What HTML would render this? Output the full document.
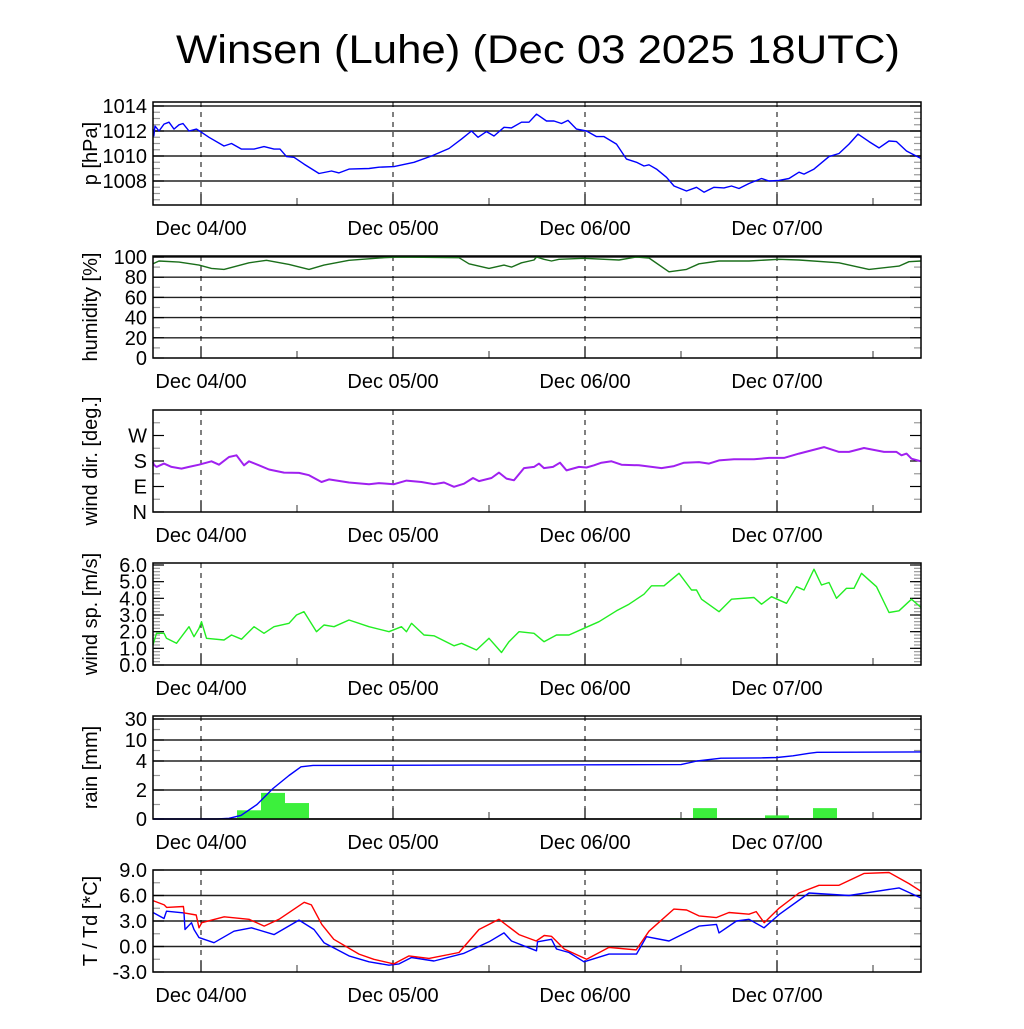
<!DOCTYPE html>
<html><head><meta charset="utf-8"><style>
html,body{margin:0;padding:0;background:#fff;}
svg text{font-family:"Liberation Sans",sans-serif;}
</style></head><body>
<svg id="chart" width="1024" height="1024" viewBox="0 0 1024 1024" xmlns="http://www.w3.org/2000/svg">
<rect width="1024" height="1024" fill="#fff"/>
<text x="538" y="63" font-size="40" text-anchor="middle" textLength="724" lengthAdjust="spacingAndGlyphs">Winsen (Luhe) (Dec 03 2025 18UTC)</text>
</svg>
<script>
// ---- data (hours since Dec 03 18UTC) ----
const dayLabels = ["Dec 04/00","Dec 05/00","Dec 06/00","Dec 07/00"];
const dayHours = [6,30,54,78];

const pHours = [0,0.1,0.25,0.75,1.375,2,2.625,3.25,3.75,4.5,5.44,6.06,7,8.875,9.81,11.06,12.625,13.875,15.125,15.875,16.69,17.625,18.875,20.75,22.31,23.25,24.5,27,28.25,30.125,32.625,34.81,37,38.56,39.81,40.625,41.69,42.625,43.875,44.81,46.06,47,47.94,49.19,50.125,51.06,51.875,52.94,54.19,55.44,56.375,57.94,59.19,60.44,61.375,62,62.94,64.19,65.125,66.69,67.94,68.875,70.125,71.375,72.31,73.25,74.5,76.06,77,78.25,79.5,80.75,81.375,82.625,84.5,85.75,87,88.125,89.5,90.75,92,92.94,94.19,96];
const pValues = [1012.15,1011.6,1012.4,1012.0,1012.55,1012.7,1012.15,1012.5,1012.6,1012.0,1012.15,1011.9,1011.5,1010.8,1011.0,1010.55,1010.55,1010.75,1010.55,1010.55,1009.95,1009.9,1009.35,1008.6,1008.8,1008.65,1008.95,1009.0,1009.1,1009.15,1009.5,1010.0,1010.6,1011.35,1012.0,1011.5,1011.95,1011.6,1012.3,1012.25,1012.7,1012.7,1013.35,1012.8,1012.8,1012.6,1012.85,1012.15,1012.0,1011.55,1011.55,1010.95,1009.75,1009.5,1009.2,1009.3,1008.95,1008.3,1007.6,1007.2,1007.5,1007.1,1007.5,1007.45,1007.6,1007.4,1007.8,1008.2,1008.0,1008.05,1008.2,1008.7,1008.55,1008.95,1009.95,1010.2,1010.95,1011.75,1011.15,1010.65,1011.2,1011.15,1010.4,1009.8];

const hHours = [0,0.75,3.25,5.75,7.31,8.875,12,14.19,17,19.5,21.375,24.5,28.875,30.75,38.25,39.5,42,43.875,44.81,46.06,47.625,47.94,48.875,49.81,50.75,53.875,58.25,60.44,62,64.5,66.69,68.25,70.75,74.5,78.25,80.75,85.75,89.5,93.25,94.5,96];
const hValues = [93.3,96,95,92,88.7,87.7,94.3,96.7,92.7,87.7,92,96.7,99.3,100,99.3,93.3,88.7,92,90,94.3,97,100,97.7,96,97.7,98.7,97,100,99,85.3,87.7,93.3,96,96,97.7,97,94.3,87.7,91,95.3,96];

const dHours = [0,0.1,0.44,1.375,2.31,3.56,4.5,5.75,7.31,8.25,9.5,10.44,11.375,12,13.25,14.5,16.375,18.25,19.5,21.06,22,24.5,27,28.25,30.125,31.69,33.56,35.125,36.375,37.625,38.875,40,40.75,42.31,43.25,44.19,45.125,46.375,47.625,48.25,48.875,50,50.875,51.69,53.25,54.19,55.125,56.06,57.31,58.56,60.75,63.56,65.125,66.375,68.25,69.5,70.75,72.625,75.125,77,78.875,80.75,83.875,85.75,87,88.875,91.375,92.94,93.56,94.19,94.81,96];
const dValues = [176,167,159,171,159,153,159,167,179,167,194,200,165,179,165,150,139,138,130,106,115,104,98,102,98,111,106,98,104,89,100,120,109,120,139,118,112,155,159,171,155,159,174,147,159,157,165,174,179,167,165,155,162,174,176,171,182,186,186,191,191,206,229,212,212,226,212,212,200,206,188,179];

const sHours = [0,0.44,1.375,1.69,2.94,3.875,4.5,5.125,5.75,6.06,6.69,8.875,9.81,11.06,12.625,13.875,15.125,17,17.94,18.875,20.44,21.375,22.625,24.5,27,29.5,31.06,31.69,32.31,33.875,35.125,37.625,38.56,40.44,42,43.56,44.5,45.75,47.625,48.875,50.44,52,53.875,55.75,57.94,59.5,61.375,62.31,63.875,65.75,67.31,67.94,68.56,70.75,72.31,75.125,76.06,77.31,79.19,80.44,81.375,82.625,83.56,84.5,85.44,86.69,87.625,88.56,90.44,92,93.25,94.81,96];
const sValues = [1.2,1.9,1.9,1.6,1.3,1.9,2.3,1.7,2.2,2.6,1.6,1.5,1.8,1.55,2.3,1.9,2.3,2.5,3.0,3.2,2.0,2.4,2.3,2.7,2.3,2.0,2.3,2.0,2.5,1.8,1.75,1.15,1.3,0.9,1.6,0.75,1.4,2.0,1.9,1.4,1.8,1.8,2.2,2.6,3.25,3.65,4.25,4.75,4.75,5.5,4.5,4.5,3.95,3.2,3.95,4.05,3.65,4.1,3.7,4.7,4.5,5.75,4.8,4.95,4.0,4.6,4.6,5.5,4.7,3.15,3.25,3.95,3.45];

const rainBinStart = [10.5,13.5,16.5,19.5,42,45,64.5,67.5,70.5,73.5,76.5,79.5,82.5];
const rainAmount = [0.6,1.8,1.1,0.03,0.03,0.03,0.05,0.75,0.05,0.05,0.25,0.05,0.75];
const rainBinWidth = 3;
const accHours = [0,8,9.5,11,13,15,17,18.5,20,40,66,68,71,76,78,80,82,83,96];
const accValues = [0,0,0.05,0.25,1.0,2.1,3.0,3.6,3.7,3.72,3.75,4.0,4.8,4.9,5.0,5.5,6.2,6.5,6.6];

const tHours = [0,1.4,1.7,3.8,3.9,5.4,5.75,6.1,8.9,12,13.9,15.75,18.9,19.8,21.1,22.6,25.75,27.6,30.1,32,34.5,38.25,40.75,43.25,45.75,47.9,48.9,49.8,51.4,54.2,57,60.4,62,65.1,66.7,68.25,70.4,72,74.5,75.4,76.4,78.25,80.75,83.25,85.75,88.9,92,94.5,96];
const tValues = [5.4,4.9,4.6,4.7,3.95,3.7,2.2,2.8,3.5,3.2,2.4,3.2,5.2,4.9,2.6,0.85,-0.9,-1.5,-2.05,-1.1,-1.4,-0.7,2.0,3.2,1.4,0.65,1.3,1.2,-0.3,-1.5,-0.1,-0.4,1.8,4.4,4.3,3.6,3.4,4.0,3.8,4.1,2.8,4.5,6.3,7.2,7.2,8.6,8.7,7.4,6.5];
const tdHours = [0,1.375,1.69,3.875,4,4.81,5.125,5.75,7.625,10.125,12.31,15.125,18.25,20.125,21.375,24.5,27,29.5,30.75,32.31,35.125,38.875,42,43.875,44.81,47.94,48.06,49.81,50.44,52,53.875,57,60.44,61.69,64.5,68.25,70.44,70.75,72.94,74.5,76.375,78.25,82,87,93.25,96];
const tdValues = [4.0,3.3,4.15,3.95,2.0,2.8,2.0,1.05,0.45,1.8,2.2,1.4,3.1,2.0,0.45,-1.1,-1.8,-2.2,-2.05,-1.3,-1.7,-0.8,0.55,1.6,0.65,-0.5,0.55,0.85,-0.3,-0.7,-1.8,-0.9,-0.9,1.15,0.65,2.4,2.6,1.6,3.0,3.2,2.2,3.75,6.3,6.0,6.9,5.7];

const pTicks = [1008,1010,1012,1014];
const hTicks = [0,20,40,60,80,100];
const dTicks = [0,90,180,270];
const dTickLabels = ["N","E","S","W"];
const sTicks = [0,1,2,3,4,5,6];
const rTicks = [0,2,4,10,30];
const tTicks = [-3,0,3,6,9];

// ---- layout ----
const NS = "http://www.w3.org/2000/svg";
const svg = document.getElementById('chart');
const X0 = 153, X1 = 921, HMAX = 96;
const xs = h => X0 + (h / HMAX) * (X1 - X0);
function el(tag, attrs, parent) {
  const e = document.createElementNS(NS, tag);
  for (const k in attrs) e.setAttribute(k, attrs[k]);
  (parent || svg).appendChild(e);
  return e;
}
function linScale(v0, v1, y0, y1) { return v => y0 + (v - v0) / (v1 - v0) * (y1 - y0); }
function pieceScale(vals, ys) {
  return v => {
    if (v <= vals[0]) return ys[0];
    for (let i = 1; i < vals.length; i++) if (v <= vals[i]) return ys[i-1] + (v - vals[i-1]) / (vals[i] - vals[i-1]) * (ys[i] - ys[i-1]);
    return ys[ys.length-1];
  };
}

function panel(cfg) {
  const g = el('g', {});
  
  
  const {top, bot, ys} = cfg;
  (cfg.grid || []).forEach(v => {
    const gl = el('line', {x1: X0, x2: X1, y1: ys(v), y2: ys(v), stroke: '#222', 'stroke-width': 1.4}, g);
    
    
  });
  (cfg.minor || []).forEach(v => {
    const y = ys(v);
    el('line', {x1: X0, x2: X0 + 7, y1: y, y2: y, stroke: '#999', 'stroke-width': 1.2}, g);
    el('line', {x1: X1 - 7, x2: X1, y1: y, y2: y, stroke: '#999', 'stroke-width': 1.2}, g);
  });
  cfg.ticks.forEach((v, i) => {
    const y = ys(v);
    el('line', {x1: X0, x2: X0 + 11, y1: y, y2: y, stroke: '#000', 'stroke-width': 1.2}, g);
    el('line', {x1: X1 - 11, x2: X1, y1: y, y2: y, stroke: '#000', 'stroke-width': 1.2}, g);
    const t = el('text', {x: 147, y: y + 7, 'font-size': 20, 'text-anchor': 'end'}, g);
    
    
    t.textContent = cfg.labels[i];
  });
  dayHours.forEach((h, i) => {
    const x = xs(h);
    const dl = el('line', {x1: x, x2: x, y1: top, y2: bot, stroke: '#000', 'stroke-width': 1, 'stroke-dasharray': '5,5'}, g);
    
    
    el('line', {x1: x, x2: x, y1: bot - 11, y2: bot, stroke: '#000', 'stroke-width': 1.2}, g);
    el('line', {x1: xs(h + 12), x2: xs(h + 12), y1: bot - 7, y2: bot, stroke: '#555', 'stroke-width': 1.2}, g);
    const t = el('text', {x: x, y: bot + 30, 'font-size': 20, 'text-anchor': 'middle'}, g);
    
    
    t.textContent = dayLabels[i];
  });
  const cy = (top + bot) / 2;
  const at = el('text', {x: 0, y: 0, 'font-size': 20, 'text-anchor': 'middle', transform: `translate(${cfg.titleX || 97},${cy}) rotate(-90)`}, g);
  
  
  at.textContent = cfg.title;
  return g;
}
function frame(g, top, bot) {
  const r = el('rect', {x: X0, y: top, width: X1 - X0, height: bot - top, fill: 'none', stroke: '#000', 'stroke-width': 1.5}, g);
  
  
}
function series(g, hours, vals, ys, color, name, w) {
  const n = Math.min(hours.length, vals.length);
  let d = '';
  for (let i = 0; i < n; i++) d += (i ? 'L' : 'M') + xs(hours[i]).toFixed(1) + ',' + ys(vals[i]).toFixed(1);
  const p = el('path', {d: d, fill: 'none', stroke: color, 'stroke-width': w || 1.4, 'stroke-linejoin': 'round'}, g);
  
  
}
function range(a, b, s) { const r = []; for (let v = a; v <= b + 1e-9; v += s) r.push(+v.toFixed(3)); return r; }

// Pressure
{
  const top = 102, bot = 205, ys = linScale(1008, 1014, 181, 106);
  const g = panel({name: 'pressure', top, bot, ys, grid: pTicks, ticks: pTicks, labels: pTicks.map(String), minor: range(1006.5, 1014, 0.5), title: 'p [hPa]'});
  series(g, pHours, pValues, ys, '#0000ff', 'pressure-line');
  frame(g, top, bot);
}
// Humidity
{
  const top = 256, bot = 358, ys = linScale(0, 100, 358, 257);
  const g = panel({name: 'humidity', top, bot, ys, grid: hTicks.slice(1), ticks: hTicks, labels: hTicks.map(String), minor: range(10, 90, 20), title: 'humidity [%]'});
  series(g, hHours, hValues, ys, '#1a6e1a', 'humidity-line');
  frame(g, top, bot);
}
// Wind direction
{
  const top = 410, bot = 512, ys = linScale(0, 360, 512, 410);
  const g = panel({name: 'wind-direction', top, bot, ys, grid: [], ticks: dTicks, labels: dTickLabels, minor: [45, 135, 225, 315], title: 'wind dir. [deg.]'});
  series(g, dHours, dValues, ys, '#a020f0', 'wind-direction-line', 2);
  frame(g, top, bot);
}
// Wind speed
{
  const top = 563, bot = 665, ys = linScale(0, 6, 665, 565);
  const g = panel({name: 'wind-speed', top, bot, ys, grid: [], ticks: sTicks, labels: sTicks.map(v => v.toFixed(1)), minor: range(0.2, 6, 0.2), title: 'wind sp. [m/s]'});
  series(g, sHours, sValues, ys, '#22ee22', 'wind-speed-line');
  frame(g, top, bot);
}
// Rain
{
  const top = 716, bot = 819, ys = pieceScale(rTicks, [819, 790, 761, 740, 719]);
  const g = panel({name: 'rain', top, bot, ys, grid: rTicks, ticks: rTicks, labels: rTicks.map(String), minor: [1, 3, 7, 20], title: 'rain [mm]'});
  rainBinStart.forEach((h, i) => {
    const y = ys(rainAmount[i]);
    const b = el('rect', {x: xs(h), y: y, width: xs(h + rainBinWidth) - xs(h), height: Math.max(819 - y, 0.8), fill: '#3cf03c'}, g);
    
    
  });
  series(g, accHours, accValues, ys, '#0000ff', 'rain-accumulation-line');
  frame(g, top, bot);
}
// Temperature
{
  const top = 870, bot = 972, ys = linScale(-3, 9, 972, 870);
  const g = panel({name: 'temperature', top, bot, ys, grid: [0, 3, 6], ticks: tTicks, labels: tTicks.map(v => v.toFixed(1)), minor: range(-1.5, 7.5, 3), title: 'T / Td [*C]'});
  series(g, tdHours, tdValues, ys, '#0000ff', 'dewpoint-line');
  series(g, tHours, tValues, ys, '#ff0000', 'temperature-line');
  frame(g, top, bot);
}
</script>
</body></html>
